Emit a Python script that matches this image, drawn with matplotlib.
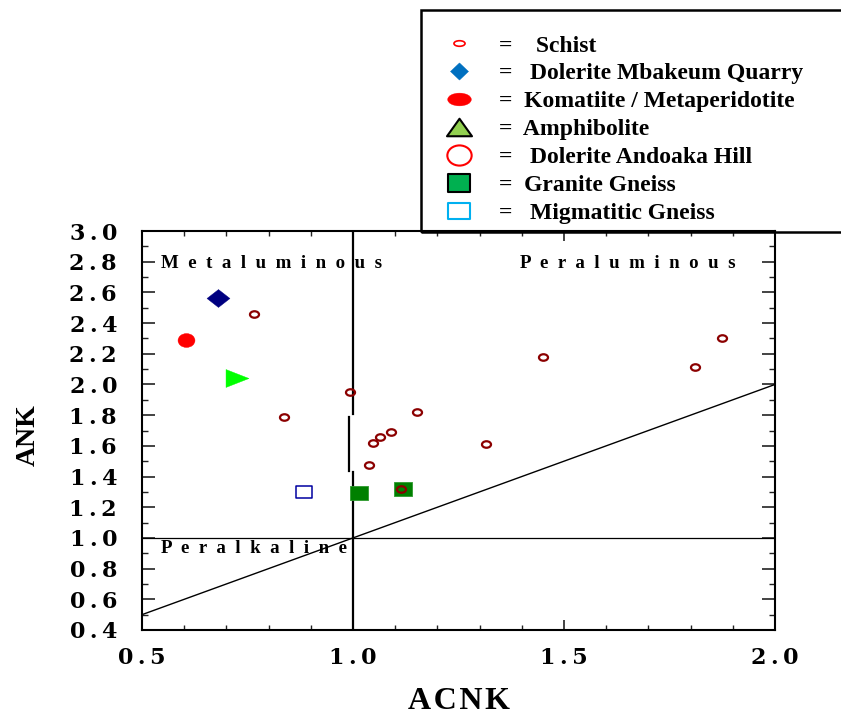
import matplotlib
matplotlib.use("Agg")
import matplotlib.pyplot as plt
from matplotlib.lines import Line2D
from matplotlib.patches import Rectangle
from matplotlib.path import Path
from matplotlib.transforms import Affine2D
from matplotlib.ticker import FixedLocator, MultipleLocator

# ------------------------------------------------------------------
# data
# ------------------------------------------------------------------
schist_acnk = [0.766, 0.837, 0.993, 1.152, 1.089, 1.064, 1.047, 1.039, 1.114, 1.315, 1.450, 1.810, 1.874]
schist_ank = [2.459, 1.786, 1.953, 1.822, 1.692, 1.656, 1.619, 1.477, 1.319, 1.610, 2.181, 2.114, 2.301]

mbakeum_acnk = [0.681]
mbakeum_ank = [2.565]
komatiite_acnk = [0.604]
komatiite_ank = [2.290]
amphibolite_acnk = [0.725]
amphibolite_ank = [2.042]
migmatite_acnk = [0.884]
migmatite_ank = [1.299]
granite_acnk = [1.014, 1.118]
granite_ank = [1.293, 1.319]

# field boundaries
diag_x = [0.5, 2.0]
diag_y = [0.5, 2.0]
peralk_y = 1.0
# the A/CNK = 1 divide is drawn in three pieces on the original
divide_x = [[1.0, 1.0], [0.99, 0.99], [1.0, 1.0]]
divide_y = [[3.0, 1.808], [1.79, 1.436], [1.43, 0.4]]

field_names = ["Metaluminous", "Peraluminous", "Peralkaline"]
field_x = [0.545, 1.396, 0.545]
field_y = [2.79, 2.79, 0.934]

x_ticks = [0.5, 1.0, 1.5, 2.0]
x_labels = ["0.5", "1.0", "1.5", "2.0"]
y_ticks = [0.4, 0.6, 0.8, 1.0, 1.2, 1.4, 1.6, 1.8, 2.0, 2.2, 2.4, 2.6, 2.8, 3.0]
y_labels = ["0.4", "0.6", "0.8", "1.0", "1.2", "1.4", "1.6", "1.8", "2.0", "2.2", "2.4", "2.6", "2.8", "3.0"]

legend_names = ["Schist", "Dolerite Mbakeum Quarry", "Komatiite / Metaperidotite", "Amphibolite",
                "Dolerite Andoaka Hill", "Granite Gneiss", "Migmatitic Gneiss"]
legend_gaps = [4, 3, 2, 2, 3, 2, 3]


# ------------------------------------------------------------------
# marker shapes
# ------------------------------------------------------------------
def ellipse(ry):
    return Path.unit_circle().transformed(Affine2D().scale(1.0, ry))


def box(ry):
    return Path([(-1, -ry), (1, -ry), (1, ry), (-1, ry), (-1, -ry)], closed=True)


def diamond(ry):
    return Path([(0, ry), (1, 0), (0, -ry), (-1, 0), (0, ry)], closed=True)


def tri_right(ry):
    return Path([(-1, ry), (1, 0), (-1, -ry), (-1, ry)], closed=True)


def tri_up(ry):
    return Path([(0, ry), (1, -ry), (-1, -ry), (0, ry)], closed=True)


serif = "Liberation Serif"
thin = "\u2009"
hair = "\u200a"

fig = plt.figure(figsize=(8.41, 7.16), dpi=100)
ax = fig.add_axes([142 / 841, 86 / 716, 633 / 841, 399 / 716])

# boundaries
ax.plot(diag_x, diag_y, color="black", lw=1.0, zorder=2)
ax.axhline(peralk_y, color="black", lw=0.9, zorder=2)
for xs, ys in zip(divide_x, divide_y):
    ax.plot(xs, ys, color="black", lw=1.6, zorder=2)

# samples
ax.plot(granite_acnk, granite_ank, ls="none", marker=box(0.78), ms=13, mfc="#008000", mec="#2e9a2e", mew=0.6, zorder=4)
ax.plot(migmatite_acnk, migmatite_ank, ls="none", marker=box(0.8), ms=11, mfc="white", mec="#0000a0", mew=1.1, zorder=4)
ax.plot(mbakeum_acnk, mbakeum_ank, ls="none", marker=diamond(0.78), ms=16.5, mfc="#000080", mec="#000080", mew=0.3, zorder=4)
ax.plot(komatiite_acnk, komatiite_ank, ls="none", marker=ellipse(0.82), ms=12.2, mfc="red", mec="red", mew=0.3, zorder=4)
ax.plot(amphibolite_acnk, amphibolite_ank, ls="none", marker=tri_right(0.78), ms=16.5, mfc="#00ff00", mec="#00ff00", mew=0.3, zorder=4)
ax.plot(schist_acnk, schist_ank, ls="none", marker=ellipse(0.72), ms=6.5, mfc="none", mec="#8b0000", mew=1.6, zorder=5)

# field names, letter spaced like the original
for name, fx, fy in zip(field_names, field_x, field_y):
    ax.text(fx, fy, "  ".join(name), family=serif, weight="bold", fontsize=13.6, ha="left", va="center")

ax.set_xlim(0.5, 2.0)
ax.set_ylim(0.4, 3.0)

ax.xaxis.set_major_locator(FixedLocator(x_ticks))
ax.xaxis.set_minor_locator(MultipleLocator(0.1))
ax.yaxis.set_major_locator(FixedLocator(y_ticks))
ax.yaxis.set_minor_locator(MultipleLocator(0.1))
tick_font = dict(family=["DejaVu Serif"], weight="bold", fontsize=16)
ax.set_xticklabels([thin.join(s) for s in x_labels], **tick_font)
ax.set_yticklabels([thin.join(s) for s in y_labels], **tick_font)

ax.tick_params(which="both", direction="in", top=True, right=True, color="#222222")
ax.tick_params(axis="x", which="major", length=7, width=1.2, pad=12)
ax.tick_params(axis="x", which="minor", length=3.5, width=1.0)
ax.tick_params(axis="y", which="major", length=9.4, width=1.2, pad=18)
ax.tick_params(axis="y", which="minor", length=4.5, width=1.0)
for sp in ax.spines.values():
    sp.set_linewidth(1.5)

ax.set_xlabel(hair.join("ACNK"), family=[serif, "DejaVu Serif"], weight="bold", fontsize=23, va="center")
ax.xaxis.set_label_coords(0.5, -0.178)
ax.set_ylabel("ANK", family=serif, weight="bold", fontsize=20, va="center", ha="center")
ax.yaxis.set_label_coords(-0.180, 0.489)

# legend
handles = [
    Line2D([], [], ls="none", marker=ellipse(0.5), ms=8, mfc="none", mec="red", mew=1.2),
    Line2D([], [], ls="none", marker=diamond(0.95), ms=13, mfc="#0070c0", mec="#0070c0", mew=0.3),
    Line2D([], [], ls="none", marker=ellipse(0.54), ms=17, mfc="red", mec="red", mew=0.3),
    Line2D([], [], ls="none", marker=tri_up(0.7), ms=18, mfc="#92d050", mec="black", mew=1.5),
    Line2D([], [], ls="none", marker=ellipse(0.83), ms=17.5, mfc="none", mec="red", mew=1.5),
    Line2D([], [], ls="none", marker=box(0.82), ms=16, mfc="#00b050", mec="black", mew=1.5),
    Line2D([], [], ls="none", marker=box(0.73), ms=16, mfc="none", mec="#00b0f0", mew=1.5),
]
labels = ["=" + " " * g + n for n, g in zip(legend_names, legend_gaps)]
ax.legend(handles, labels, loc="upper left", bbox_to_anchor=(441 / 841, 1 - 35 / 716),
          bbox_transform=fig.transFigure, frameon=False, numpoints=1,
          prop=dict(family=serif, weight="bold", size=17),
          handlelength=1.5, handletextpad=0.95, labelspacing=0.27, borderpad=0, borderaxespad=0)

# box round the key, running off the right edge
fig.patches.append(Rectangle((421 / 841, 1 - 232 / 716), 0.6, 222 / 716, transform=fig.transFigure,
                             fill=False, lw=1.8, edgecolor="black"))

fig.savefig("out.png", dpi=100)
